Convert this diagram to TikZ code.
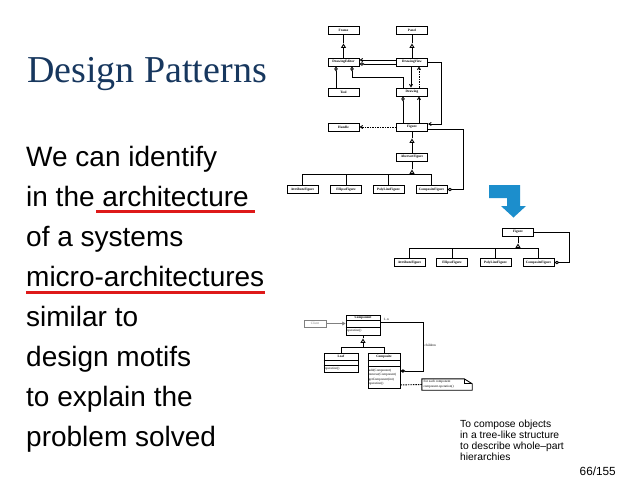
\documentclass[tikz,border=0pt]{standalone}
\usepackage{fontspec}
\setmainfont{Liberation Serif}
\setsansfont{Liberation Sans}
\usetikzlibrary{arrows.meta,calc}
\definecolor{titleblue}{RGB}{23,55,94}
\definecolor{ulred}{RGB}{222,25,25}
\definecolor{arrowblue}{RGB}{28,142,204}
\begin{document}
\begin{tikzpicture}[x=1pt,y=-1pt,
  tinyf/.style={font=\fontsize{3.4}{3.8}\selectfont\bfseries},
  cls/.style={draw, line width=0.9pt, minimum width=31pt, minimum height=8pt, inner sep=0pt, tinyf},
  umlc/.style={draw, line width=0.9pt, inner sep=0pt},
  optxt/.style={anchor=west, inner sep=0pt, font=\fontsize{3.3}{3.8}\selectfont},
  ln/.style={line width=0.9pt},
  gentip/.style={ln, -{Triangle[open,length=4.5pt,width=5pt]}},
  aggr/.style={ln, {Diamond[open,length=5pt,width=3.5pt]}-},
  comp/.style={ln, {Diamond[length=5pt,width=3.5pt]}-},
  arr/.style={ln, -{Straight Barb[length=2.5pt,width=3pt]}},
  dsh/.style={dash pattern=on 1.5pt off 1pt},
  body/.style={anchor=base west, inner sep=0pt, font=\sffamily\fontsize{28}{33}\selectfont}
]
\useasboundingbox[fill=white] (0,0) rectangle (638,493);

% ---------- title and text ----------
\node[anchor=base west, inner sep=0pt, text=titleblue, font=\fontsize{38}{44}\selectfont] (title) at (27,82) {Design Patterns};
\node[body] (l1) at (26,166) {We can identify};
\node[body] (l2) at (26,206) {in the architecture};
\node[body] (l3) at (26,246) {of a systems};
\node[body] (l4) at (26,286) {micro-architectures};
\node[body] (l5) at (26,326) {similar to};
\node[body] (l6) at (26,366) {design motifs};
\node[body] (l7) at (26,406) {to explain the};
\node[body] (l8) at (26,446) {problem solved};
\draw[ulred, line width=3pt] (96,211) -- (255,211);
\draw[ulred, line width=3pt] (26,292) -- (265,292);

\node[anchor=base west, inner sep=0pt, align=left, font=\sffamily\fontsize{10.3}{11}\selectfont] (desc) at (460,460.5)
  {To compose objects\\in a tree-like structure\\to describe whole--part\\hierarchies};
\node[anchor=base east, inner sep=0pt, font=\sffamily\fontsize{11.8}{13}\selectfont] (page) at (616,475) {66/155};

% ---------- diagram 1 ----------
\node[cls] (Frame) at (343.5,30.5) {Frame};
\node[cls] (Panel) at (412,30.5) {Panel};
\node[cls] (DrawingEditor) at (343.5,62) {DrawingEditor};
\node[cls] (DrawingView) at (412,62) {DrawingView};
\node[cls] (Tool) at (343.5,92) {Tool};
\node[cls] (Drawing) at (412,92) {Drawing};
\node[cls] (Handle) at (343.5,127) {Handle};
\node[cls] (Figure) at (412,127) {Figure};
\node[cls] (AbstractFigure) at (412,157) {AbstractFigure};
\node[cls] (AttributeFigure) at (302.5,189.5) {AttributeFigure};
\node[cls] (EllipseFigure) at (346,189.5) {EllipseFigure};
\node[cls] (PolyLineFigure) at (388.5,189.5) {PolyLineFigure};
\node[cls] (CompositeFigure) at (431.5,189.5) {CompositeFigure};

\draw[gentip] (DrawingEditor.north) -- ($(Frame.south)+(0,8.5)$);
\draw[ln] ($(Frame.south)+(0,8.5)$) -- (Frame.south);
\draw[gentip] (DrawingView.north) -- ($(Panel.south)+(0,8.5)$);
\draw[ln] ($(Panel.south)+(0,8.5)$) -- (Panel.south);

\draw[arr] ($(DrawingView.west)+(0,-2)$) -- ($(DrawingEditor.east)+(0,-2)$);
\draw[aggr] ($(DrawingEditor.east)+(0,2)$) -- ($(DrawingView.west)+(0,2)$);
\draw[aggr] ($(DrawingEditor.south)+(-7.5,0)$) -- ($(Tool.north)+(-7.5,0)$);
\draw[aggr] ($(DrawingEditor.south)+(8.5,0)$) |- ($(Drawing.north)+(-9,-10)$) -- ($(Drawing.north)+(-9,0)$);
\draw[arr] ($(DrawingView.south)+(-1,0)$) -- ($(Drawing.north)+(-1,0)$);
\draw[arr, dsh] ($(Drawing.north)+(7,0)$) -- ($(DrawingView.south)+(7,0)$);
\draw[arr] (DrawingView.east) -| ($(Figure.east)+(13,-3)$) -- ($(Figure.east)+(0,-3)$);
\draw[aggr] ($(Drawing.south)+(-9,0)$) -- ($(Figure.north)+(-9,0)$);
\draw[arr] ($(Figure.north)+(7,0)$) -- ($(Drawing.south)+(7,0)$);
\draw[arr, dsh] (Figure.west) -- (Handle.east);
\draw[aggr] (CompositeFigure.east) -| ($(Figure.east)+(35,2)$) -- ($(Figure.east)+(0,2)$);

\draw[gentip] (AbstractFigure.north) -- ($(Figure.south)+(0,7)$);
\draw[ln] ($(Figure.south)+(0,7)$) -- (Figure.south);
\coordinate (bus1) at ($(AbstractFigure.south)+(0,12.5)$);
\draw[gentip] (bus1) -- ($(AbstractFigure.south)+(0,8)$);
\draw[ln] ($(AbstractFigure.south)+(0,8)$) -- (AbstractFigure.south);
\draw[ln] (AttributeFigure.north) |- (bus1);
\draw[ln] (EllipseFigure.north) |- (bus1);
\draw[ln] (PolyLineFigure.north) |- (bus1);
\draw[ln] (CompositeFigure.north) |- (bus1);

% ---------- blue arrow ----------
\fill[arrowblue] (489,185) -- (520,185) -- (520,206) -- (526,206) -- (513.5,217.5) -- (501,206) -- (507,206) -- (507,198) -- (489,198) -- cycle;

% ---------- diagram 2 ----------
\node[cls] (Figure2) at (518,232) {Figure};
\node[cls] (Attribute2) at (409.5,262.5) {AttributeFigure};
\node[cls] (Ellipse2) at (452,262.5) {EllipseFigure};
\node[cls] (PolyLine2) at (495.5,262.5) {PolyLineFigure};
\node[cls] (Composite2) at (538.5,262.5) {CompositeFigure};
\coordinate (bus2) at ($(Figure2.south)+(0,11.5)$);
\draw[gentip] (bus2) -- ($(Figure2.south)+(0,7)$);
\draw[ln] ($(Figure2.south)+(0,7)$) -- (Figure2.south);
\draw[ln] (Attribute2.north) |- (bus2);
\draw[ln] (Ellipse2.north) |- (bus2);
\draw[ln] (PolyLine2.north) |- (bus2);
\draw[ln] (Composite2.north) |- (bus2);
\draw[aggr] (Composite2.east) -| ($(Figure2.east)+(35,0)$) -- (Figure2.east);

% ---------- diagram 3 ----------
\node[cls, draw=gray, text=gray, minimum width=22pt, minimum height=7pt, font=\fontsize{3.4}{3.8}\selectfont] (Client) at (315,323.5) {Client};
\node[umlc, minimum width=34pt, minimum height=20pt] (Component) at (363,325) {};
\node[tinyf, inner sep=0pt] at ($(Component.north)+(0,3)$) {Component};
\draw[ln] ($(Component.north west)+(0,6)$) -- ($(Component.north east)+(0,6)$);
\draw[ln] ($(Component.north west)+(0,13)$) -- ($(Component.north east)+(0,13)$);
\node[optxt] at ($(Component.north west)+(1,16.5)$) {operation()};

\node[umlc, minimum width=34pt, minimum height=19pt] (Leaf) at (341,362.5) {};
\node[tinyf, inner sep=0pt] at ($(Leaf.north)+(0,4)$) {Leaf};
\draw[ln] ($(Leaf.north west)+(0,8)$) -- ($(Leaf.north east)+(0,8)$);
\draw[ln] ($(Leaf.north west)+(0,13)$) -- ($(Leaf.north east)+(0,13)$);
\node[optxt] at ($(Leaf.north west)+(1,16)$) {operation()};

\node[umlc, minimum width=32pt, minimum height=35pt] (Composite) at (384,370.5) {};
\node[tinyf, inner sep=0pt] at ($(Composite.north)+(0,4)$) {Composite};
\draw[ln] ($(Composite.north west)+(0,8)$) -- ($(Composite.north east)+(0,8)$);
\draw[ln] ($(Composite.north west)+(0,14)$) -- ($(Composite.north east)+(0,14)$);
\node[optxt] at ($(Composite.north west)+(1,18)$) {add(Component)};
\node[optxt] at ($(Composite.north west)+(1,22.5)$) {remove(Component)};
\node[optxt] at ($(Composite.north west)+(1,27)$) {getComponent(int)};
\node[optxt] at ($(Composite.north west)+(1,31.5)$) {operation()};

\draw[ln, gray, -{Straight Barb[length=2.5pt,width=3pt]}] (Client.east) -- ($(Component.west)+(0,-1.5)$);
\coordinate (bus3) at ($(Component.south)+(0,12)$);
\draw[gentip] (bus3) -- ($(Component.south)+(0,3)$);
\draw[ln] ($(Component.south)+(0,3)$) -- (Component.south);
\draw[ln] (Leaf.north) |- (bus3);
\draw[ln] (Composite.north) |- (bus3);

\draw[comp] ($(Composite.east)+(0,0.5)$) -| ($(Component.east)+(43,-3)$) -- ($(Component.east)+(0,-3)$);
\node[anchor=base west, inner sep=0pt, font=\fontsize{3.4}{3.8}\selectfont] (mult) at ($(Component.east)+(3,-4.5)$) {1..n};
\node[anchor=west, inner sep=0pt, font=\fontsize{3.4}{3.8}\selectfont] (childlbl) at (424.5,345) {children};

\node[minimum width=50pt, minimum height=11pt, inner sep=0pt] (note) at (447,384.5) {};
\draw[ln] (note.north west) -- ($(note.north east)+(-8,0)$) -- ($(note.north east)+(0,5)$) -- (note.south east) -- (note.south west) -- cycle;
\draw[ln] ($(note.north east)+(-8,0)$) -- ($(note.north east)+(-8,5)$) -- ($(note.north east)+(0,5)$);
\node[optxt] at ($(note.west)+(1.5,-2.5)$) {For each component};
\node[optxt] at ($(note.west)+(1.5,2.5)$) {component.operation()};
\draw[ln, dsh] ($(Composite.south east)+(0,-3.5)$) -- (note.west);
\end{tikzpicture}
\end{document}
